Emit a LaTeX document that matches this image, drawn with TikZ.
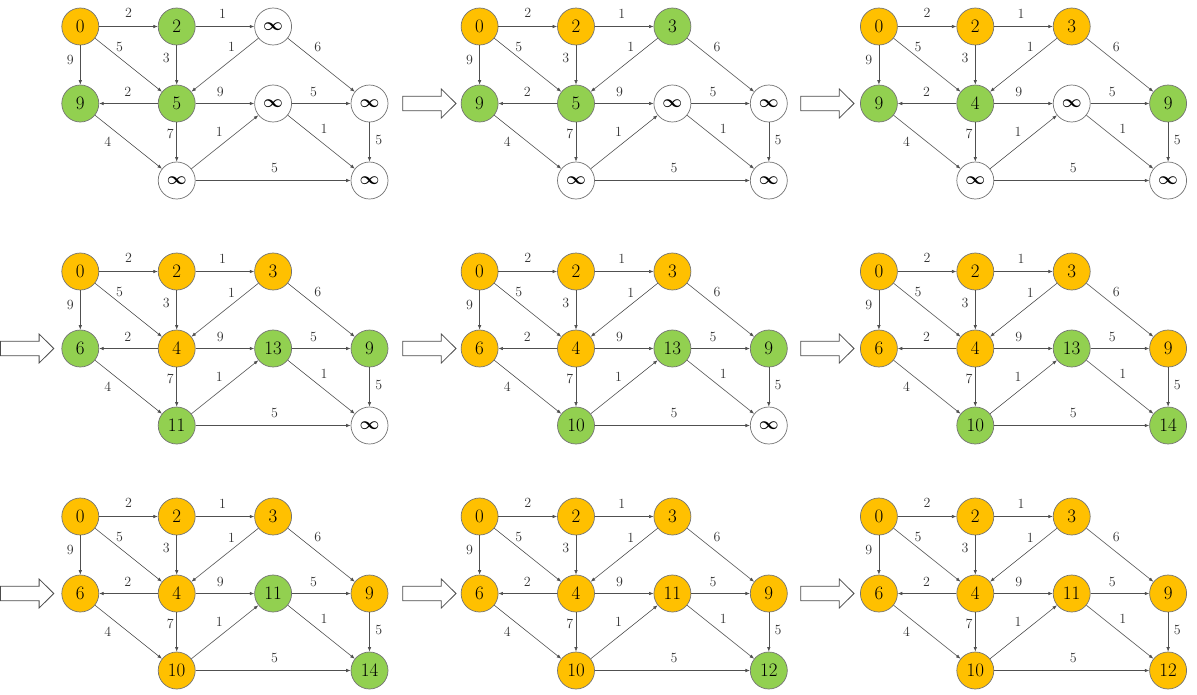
\documentclass[tikz,border=0pt]{standalone}
\usetikzlibrary{arrows.meta,positioning}
\definecolor{Gold}{RGB}{255,192,0}
\definecolor{Leaf}{RGB}{146,208,80}
\definecolor{Wire}{RGB}{80,80,80}

% edges of one step, #1 = node name prefix
\newcommand{\wedges}[1]{%
  \foreach \s/\t/\w/\p/\dx/\dy in {
      a/b/2/.5/0/14, b/c/1/.46/0/13, a/d/9/.37/-10/0, a/e/5/.29/5/6.3,
      b/e/3/.31/-10.3/0, c/e/1/.31/-6/7.5, c/g/6/.34/7.2/9.1,
      e/d/2/.51/0/11.7, e/f/9/.42/0/11.7, f/g/5/.37/0/11.7,
      e/h/7/.29/-6.3/0, d/h/4/.31/-7.9/-9.9, h/f/1/.52/-6.9/8.6,
      f/i/1/.43/7.5/9.4, g/i/5/.46/9.3/0, h/i/5/.51/0/12.3}
    \draw[wire] (#1\s) -- node[wlab, pos=\p, xshift=\dx pt, yshift=\dy pt] {\w} (#1\t);
}
% hollow arrow between steps
\newcommand{\stepto}[2]{%
  \draw[steparrow] (#1,#2) ++(0,-7.2) -- ++(38.6,0) -- ++(0,-7.3) -- ++(14.7,14.5)
    -- ++(-14.7,14.5) -- ++(0,-7.3) -- ++(-38.6,0) -- cycle;}
\newcommand{\unreached}{{\boldmath$\infty$}}

\begin{document}
\begin{tikzpicture}[
        x=1pt, y=-1pt,
        node distance=77pt and 96.4pt,
        on grid,
        vtx/.style={circle, draw=black!55, line width=0.7pt, minimum size=37pt, inner sep=0pt, font=\fontsize{19}{19}\selectfont},
        fixed/.style={vtx, fill=Gold},
        frontier/.style={vtx, fill=Leaf},
        unseen/.style={vtx, fill=white},
        wire/.style={draw=Wire, line width=0.6pt, -{Latex[length=4.5pt,width=3.5pt]}},
        wlab/.style={font=\fontsize{14}{14}\selectfont, text=black!80, inner sep=0pt},
        steparrow/.style={draw=black!70, line width=0.8pt, fill=white}
    ]
    \useasboundingbox (0,0) rectangle (1197,694);

    % Step 1
    \begin{scope}[shift={(0,0)}]
    \node[fixed] (s1a) at (80.3,26.5) {0};
    \node[frontier, right=of s1a] (s1b) {2};
    \node[unseen, right=of s1b] (s1c) {\unreached};
    \node[frontier, below=of s1a] (s1d) {9};
    \node[frontier, right=of s1d] (s1e) {5};
    \node[unseen, right=of s1e] (s1f) {\unreached};
    \node[unseen, right=of s1f] (s1g) {\unreached};
    \node[unseen, below=of s1e] (s1h) {\unreached};
    \node[unseen, below=of s1g] (s1i) {\unreached};
    \wedges{s1}
    \end{scope}

    % Step 2
    \begin{scope}[shift={(399.3,0)}]
    \stepto{3.4}{103.5}
    \node[fixed] (s2a) at (80.3,26.5) {0};
    \node[fixed, right=of s2a] (s2b) {2};
    \node[frontier, right=of s2b] (s2c) {3};
    \node[frontier, below=of s2a] (s2d) {9};
    \node[frontier, right=of s2d] (s2e) {5};
    \node[unseen, right=of s2e] (s2f) {\unreached};
    \node[unseen, right=of s2f] (s2g) {\unreached};
    \node[unseen, below=of s2e] (s2h) {\unreached};
    \node[unseen, below=of s2g] (s2i) {\unreached};
    \wedges{s2}
    \end{scope}

    % Step 3
    \begin{scope}[shift={(798.6,0)}]
    \stepto{2.1}{103.5}
    \node[fixed] (s3a) at (80.3,26.5) {0};
    \node[fixed, right=of s3a] (s3b) {2};
    \node[fixed, right=of s3b] (s3c) {3};
    \node[frontier, below=of s3a] (s3d) {9};
    \node[frontier, right=of s3d] (s3e) {4};
    \node[unseen, right=of s3e] (s3f) {\unreached};
    \node[frontier, right=of s3f] (s3g) {9};
    \node[unseen, below=of s3e] (s3h) {\unreached};
    \node[unseen, below=of s3g] (s3i) {\unreached};
    \wedges{s3}
    \end{scope}

    % Step 4
    \begin{scope}[shift={(0,245)}]
    \stepto{0.5}{103.5}
    \node[fixed] (s4a) at (80.3,26.5) {0};
    \node[fixed, right=of s4a] (s4b) {2};
    \node[fixed, right=of s4b] (s4c) {3};
    \node[frontier, below=of s4a] (s4d) {6};
    \node[fixed, right=of s4d] (s4e) {4};
    \node[frontier, right=of s4e] (s4f) {13};
    \node[frontier, right=of s4f] (s4g) {9};
    \node[frontier, below=of s4e] (s4h) {11};
    \node[unseen, below=of s4g] (s4i) {\unreached};
    \wedges{s4}
    \end{scope}

    % Step 5
    \begin{scope}[shift={(399.3,245)}]
    \stepto{3.4}{103.5}
    \node[fixed] (s5a) at (80.3,26.5) {0};
    \node[fixed, right=of s5a] (s5b) {2};
    \node[fixed, right=of s5b] (s5c) {3};
    \node[fixed, below=of s5a] (s5d) {6};
    \node[fixed, right=of s5d] (s5e) {4};
    \node[frontier, right=of s5e] (s5f) {13};
    \node[frontier, right=of s5f] (s5g) {9};
    \node[frontier, below=of s5e] (s5h) {10};
    \node[unseen, below=of s5g] (s5i) {\unreached};
    \wedges{s5}
    \end{scope}

    % Step 6
    \begin{scope}[shift={(798.6,245)}]
    \stepto{2.1}{103.5}
    \node[fixed] (s6a) at (80.3,26.5) {0};
    \node[fixed, right=of s6a] (s6b) {2};
    \node[fixed, right=of s6b] (s6c) {3};
    \node[fixed, below=of s6a] (s6d) {6};
    \node[fixed, right=of s6d] (s6e) {4};
    \node[frontier, right=of s6e] (s6f) {13};
    \node[fixed, right=of s6f] (s6g) {9};
    \node[frontier, below=of s6e] (s6h) {10};
    \node[frontier, below=of s6g] (s6i) {14};
    \wedges{s6}
    \end{scope}

    % Step 7
    \begin{scope}[shift={(0,490)}]
    \stepto{0.5}{103.5}
    \node[fixed] (s7a) at (80.3,26.5) {0};
    \node[fixed, right=of s7a] (s7b) {2};
    \node[fixed, right=of s7b] (s7c) {3};
    \node[fixed, below=of s7a] (s7d) {6};
    \node[fixed, right=of s7d] (s7e) {4};
    \node[frontier, right=of s7e] (s7f) {11};
    \node[fixed, right=of s7f] (s7g) {9};
    \node[fixed, below=of s7e] (s7h) {10};
    \node[frontier, below=of s7g] (s7i) {14};
    \wedges{s7}
    \end{scope}

    % Step 8
    \begin{scope}[shift={(399.3,490)}]
    \stepto{3.4}{103.5}
    \node[fixed] (s8a) at (80.3,26.5) {0};
    \node[fixed, right=of s8a] (s8b) {2};
    \node[fixed, right=of s8b] (s8c) {3};
    \node[fixed, below=of s8a] (s8d) {6};
    \node[fixed, right=of s8d] (s8e) {4};
    \node[fixed, right=of s8e] (s8f) {11};
    \node[fixed, right=of s8f] (s8g) {9};
    \node[fixed, below=of s8e] (s8h) {10};
    \node[frontier, below=of s8g] (s8i) {12};
    \wedges{s8}
    \end{scope}

    % Step 9
    \begin{scope}[shift={(798.6,490)}]
    \stepto{2.1}{103.5}
    \node[fixed] (s9a) at (80.3,26.5) {0};
    \node[fixed, right=of s9a] (s9b) {2};
    \node[fixed, right=of s9b] (s9c) {3};
    \node[fixed, below=of s9a] (s9d) {6};
    \node[fixed, right=of s9d] (s9e) {4};
    \node[fixed, right=of s9e] (s9f) {11};
    \node[fixed, right=of s9f] (s9g) {9};
    \node[fixed, below=of s9e] (s9h) {10};
    \node[fixed, below=of s9g] (s9i) {12};
    \wedges{s9}
    \end{scope}
\end{tikzpicture}
\end{document}
